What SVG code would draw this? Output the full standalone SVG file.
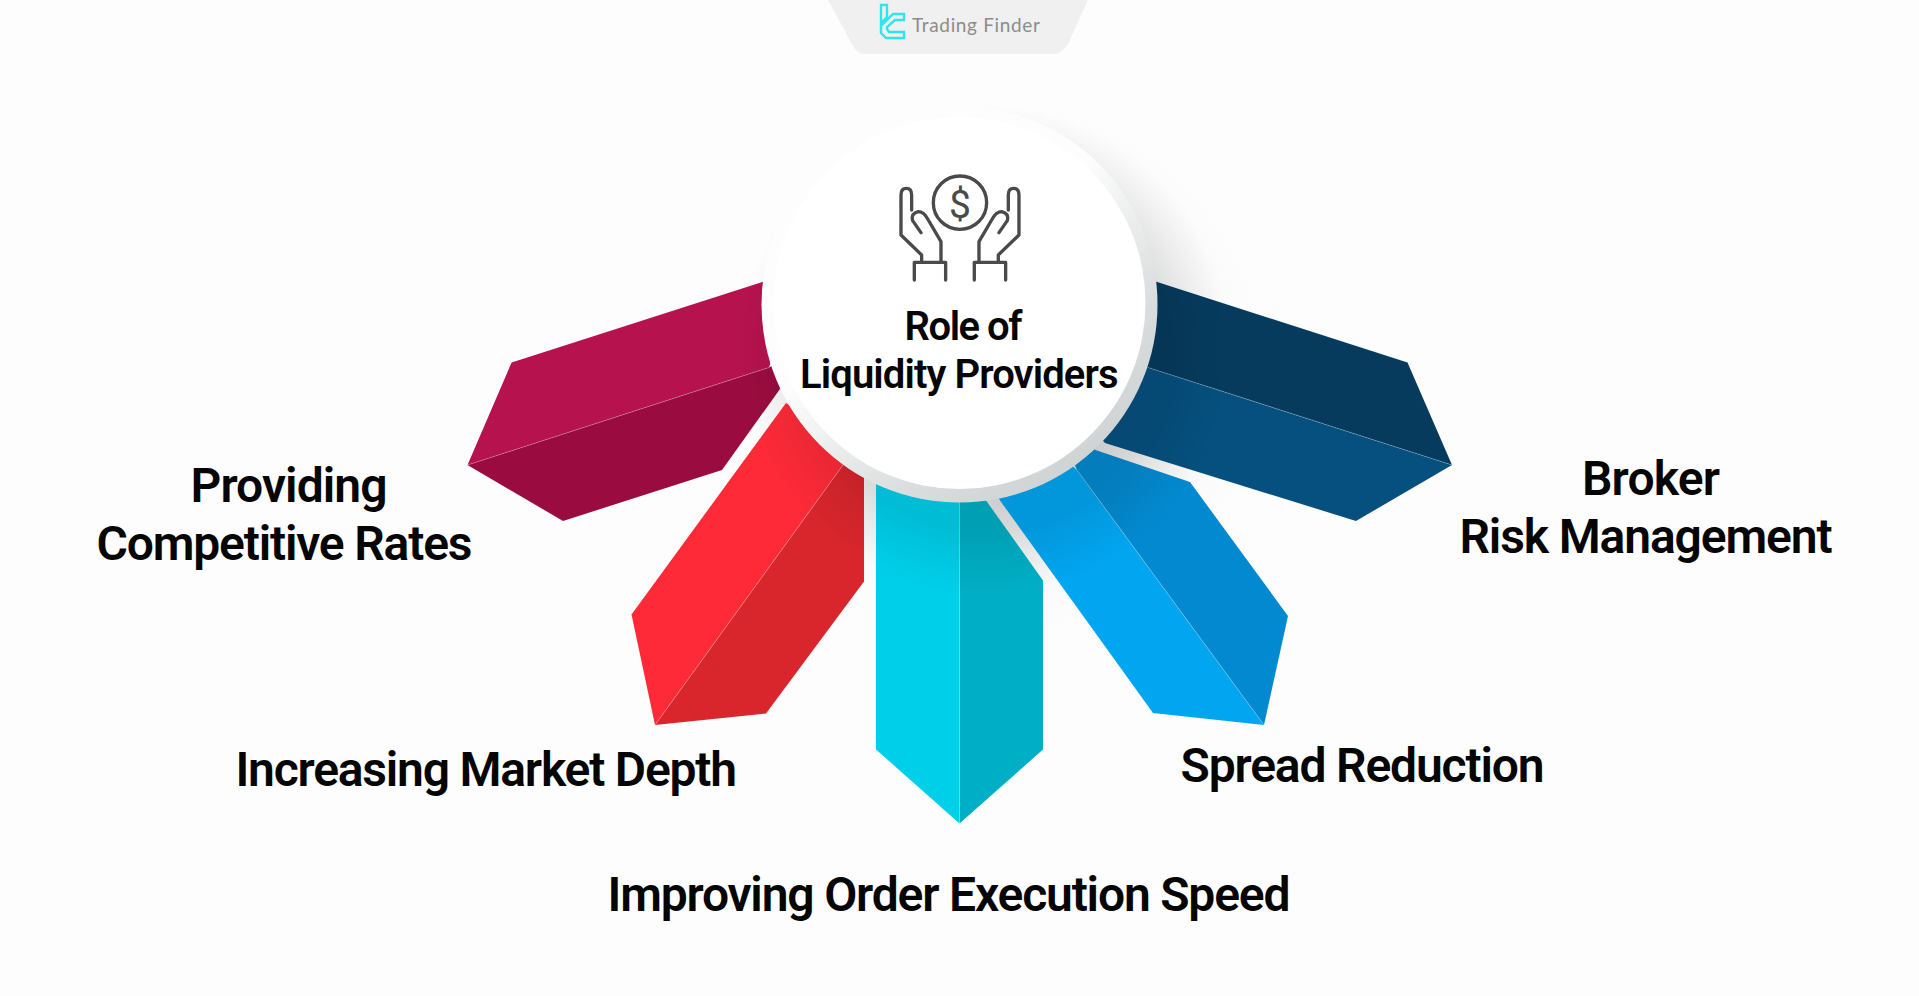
<svg xmlns="http://www.w3.org/2000/svg" width="1919" height="996" viewBox="0 0 1919 996">
<defs>
<style>
.lbl{font-family:"Roboto","Liberation Sans",sans-serif;font-weight:600;fill:#050505;font-size:48px}
.ctr{font-size:40px}
.seam{stroke:#fff;stroke-opacity:.3;stroke-width:.8;fill:none}
.ic{fill:none;stroke:#4a4a4a;stroke-width:10;stroke-linecap:round;stroke-linejoin:round}
</style>
<radialGradient id="glow" gradientUnits="userSpaceOnUse" cx="1000" cy="370" r="280">
<stop offset="0.42" stop-color="#d3d6d7" stop-opacity=".8"/>
<stop offset="0.65" stop-color="#e4e6e6" stop-opacity=".4"/>
<stop offset="0.95" stop-color="#f5f5f5" stop-opacity="0"/>
</radialGradient>
<radialGradient id="shade" gradientUnits="userSpaceOnUse" cx="985" cy="350" r="250">
<stop offset="0.72" stop-color="#000" stop-opacity=".09"/>
<stop offset="0.98" stop-color="#000" stop-opacity="0"/>
</radialGradient>
<linearGradient id="ring" gradientUnits="userSpaceOnUse" x1="830" y1="130" x2="1090" y2="470">
<stop offset="0.42" stop-color="#fdfdfd"/>
<stop offset="0.78" stop-color="#dadddd"/>
<stop offset="1" stop-color="#cfd2d3"/>
</linearGradient>
</defs>
<rect width="1919" height="996" fill="#fdfdfd"/>
<circle id="backdrop" cx="1000" cy="370" r="280" fill="url(#glow)"/>
<g id="logo-tab">
<path d="M828 0H1088L1068 44Q1062 54 1052 54H866Q856 54 852 44Z" fill="#f0f0f0"/>
<g fill="none" stroke="#2ee6ea" stroke-width="2.4" stroke-linejoin="miter">
<path d="M881 5H887V17L881 23Z"/>
<path d="M904 14H893L881 26V33L886 38H904V32H889L887 29V27L895 20H904Z"/>
</g>
<text x="912" y="31.5" font-family="Lato,'Liberation Sans',sans-serif" font-size="19" font-weight="400" fill="#8c8c8c" textLength="128" lengthAdjust="spacing">Trading Finder</text>
</g>
<g id="node-competitive-rates">
<polygon points="800,270 511.6,362.5 467.5,465 769,367.5" fill="#b5124e"/>
<polygon points="467.5,465 563,521 722,470 780,389 800,360 800,350 769,367.5" fill="#9a0c3f"/>
<line class="seam" x1="467.5" y1="465" x2="769" y2="367.5"/>
<text class="lbl" x="190.5" y="502" textLength="197" lengthAdjust="spacing">Providing</text>
<text class="lbl" x="96.5" y="559.5" textLength="376" lengthAdjust="spacing">Competitive Rates</text>
</g>
<g id="node-market-depth">
<polygon points="786,403 631.5,614.5 655,725 843,465 830,430" fill="#fe2a38"/>
<polygon points="655,725 766,713.5 864,581.5 864,440 843,465" fill="#d9262c"/>
<line class="seam" x1="655" y1="725" x2="843" y2="465"/>
<text class="lbl" x="235.5" y="786" textLength="501.5" lengthAdjust="spacing">Increasing Market Depth</text>
</g>
<g id="node-execution-speed">
<polygon points="876,440 876,749.5 959.5,823.5 959.5,440" fill="#00cfea"/>
<polygon points="959.5,823.5 1043,749.5 1043,580.5 985,499 970,440 959.5,440" fill="#00afc6"/>
<line class="seam" x1="959.5" y1="440" x2="959.5" y2="823.5"/>
<text class="lbl" x="607.5" y="911" textLength="683" lengthAdjust="spacing">Improving Order Execution Speed</text>
</g>
<g id="node-spread-reduction">
<polygon points="1000,500.5 1153,713 1264,725 1077,470 1040,440 985,470" fill="#02a5f0"/>
<polygon points="1264,725 1288,616 1190,482 1095.5,450 1060,430 1077,470" fill="#0389cf"/>
<line class="seam" x1="1077" y1="470" x2="1264" y2="725"/>
<text class="lbl" x="1180.5" y="782" textLength="364" lengthAdjust="spacing">Spread Reduction</text>
</g>
<g id="node-risk-management">
<polygon points="1120,270 1407.5,362.5 1452,465 1148,367.5 1120,360" fill="#063b5e"/>
<polygon points="1452,465 1356,521 1105,443 1085,420 1120,350 1148,367.5" fill="#05507f"/>
<line class="seam" x1="1148" y1="367.5" x2="1452" y2="465"/>
<text class="lbl" x="1582" y="494.7" textLength="138" lengthAdjust="spacing">Broker</text>
<text class="lbl" x="1459.5" y="553" textLength="373" lengthAdjust="spacing">Risk Management</text>
</g>
<circle id="ring-shadow" cx="985" cy="350" r="250" fill="url(#shade)"/>
<g id="node-center">
<circle cx="959.5" cy="304.5" r="198" fill="url(#ring)"/>
<circle cx="959.5" cy="303" r="186" fill="#fff"/>
<g transform="translate(740 100) scale(.3333)">
<circle class="ic" cx="660" cy="308" r="80"/>
<path id="hand" class="ic" d="M515 330V285Q515 265 499 265T483 285V405L545 465V487M603 487V425L565 360Q552 335 535 335Q512 340 518 362L543 398M523 540V487H617V540"/>
<use href="#hand" transform="translate(1320 0) scale(-1 1)"/>
</g>
<text x="960" y="218" text-anchor="middle" font-family="Roboto,'Liberation Sans',sans-serif" font-size="39" font-weight="400" fill="#4a4a4a">$</text>
<text class="lbl ctr" x="904.5" y="339.5" textLength="118" lengthAdjust="spacing">Role of</text>
<text class="lbl ctr" x="800" y="387.5" textLength="318.5" lengthAdjust="spacing">Liquidity Providers</text>
</g>
</svg>
